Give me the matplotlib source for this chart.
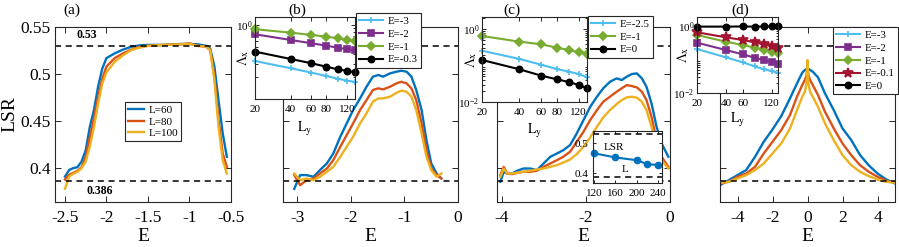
import matplotlib
matplotlib.use('Agg')
import matplotlib.pyplot as plt
from matplotlib.ticker import NullLocator, NullFormatter

plt.rcParams['font.family'] = ['Liberation Serif', 'DejaVu Serif']
plt.rcParams['mathtext.fontset'] = 'stix'
plt.rcParams['axes.unicode_minus'] = False

# ---- main panels: LSR vs E for L=60, 80, 100 ----
Ea = [-2.5, -2.45, -2.4, -2.35, -2.3, -2.25, -2.2, -2.15, -2.1, -2.05, -2.0, -1.9, -1.8,
      -1.7, -1.6, -1.5, -1.3, -1.1, -1.0, -0.9, -0.8, -0.75, -0.7, -0.65, -0.6, -0.55]
a60 = [0.391, 0.398, 0.400, 0.401, 0.407, 0.419, 0.444, 0.462, 0.487, 0.506, 0.517, 0.522, 0.526,
       0.529, 0.5305, 0.531, 0.531, 0.532, 0.532, 0.5316, 0.530, 0.527, 0.508, 0.472, 0.437, 0.412]
a80 = [0.388, 0.393, 0.395, 0.397, 0.401, 0.412, 0.433, 0.453, 0.476, 0.495, 0.508, 0.517, 0.522,
       0.526, 0.529, 0.530, 0.531, 0.5316, 0.5326, 0.530, 0.529, 0.5255, 0.497, 0.451, 0.4156, 0.4014]
a100 = [0.378, 0.391, 0.394, 0.396, 0.400, 0.407, 0.423, 0.444, 0.469, 0.490, 0.502, 0.513, 0.520,
        0.5255, 0.528, 0.530, 0.531, 0.5316, 0.532, 0.530, 0.529, 0.5255, 0.4936, 0.444, 0.4085, 0.3943]

Eb = [-3.06, -2.95, -2.83, -2.7, -2.58, -2.45, -2.33, -2.2, -2.08, -1.96, -1.83, -1.71, -1.59,
      -1.49, -1.4, -1.27, -1.15, -1.06, -0.96, -0.87, -0.78, -0.68, -0.59, -0.5, -0.4, -0.31]
b60 = [0.378, 0.3926, 0.3926, 0.3908, 0.3979, 0.405, 0.4156, 0.4333, 0.4475, 0.4617, 0.4741, 0.4865, 0.4972,
       0.499, 0.4972, 0.5007, 0.5025, 0.5035, 0.5025, 0.4972, 0.483, 0.4617, 0.4298, 0.405, 0.3943, 0.389]
b80 = [0.3926, 0.3819, 0.3872, 0.389, 0.3943, 0.3996, 0.4085, 0.4227, 0.4351, 0.4475, 0.4617, 0.4723, 0.483,
       0.4848, 0.4837, 0.4865, 0.4901, 0.4918, 0.4901, 0.4848, 0.4723, 0.4475, 0.4191, 0.3996, 0.3926, 0.389]
b100 = [0.3943, 0.3872, 0.389, 0.3872, 0.3908, 0.3961, 0.4014, 0.4121, 0.4227, 0.4333, 0.4475, 0.4582, 0.4706,
        0.4741, 0.4741, 0.4759, 0.4801, 0.4823, 0.4812, 0.4759, 0.4617, 0.4369, 0.4121, 0.3979, 0.3908, 0.3943]

Ec = [-4.04, -3.96, -3.88, -3.76, -3.64, -3.49, -3.33, -3.17, -3.01, -2.85, -2.69, -2.54, -2.38, -2.22, -2.06,
      -1.9, -1.74, -1.59, -1.43, -1.27, -1.15, -1.03, -0.91, -0.79, -0.67, -0.56, -0.44, -0.32, -0.2, -0.04]
c60 = [0.3855, 0.3961, 0.3943, 0.3943, 0.3972, 0.3996, 0.3996, 0.3979, 0.405, 0.4121, 0.4156, 0.4191, 0.4245,
       0.4369, 0.4511, 0.4652, 0.4759, 0.4848, 0.4918, 0.4954, 0.4936, 0.4972, 0.500, 0.5007, 0.4954, 0.4865,
       0.4688, 0.444, 0.4262, 0.4121]
c80 = [0.3926, 0.4014, 0.3943, 0.3936, 0.395, 0.3961, 0.3961, 0.3972, 0.4014, 0.405, 0.4085, 0.4121, 0.4174,
       0.428, 0.4387, 0.4511, 0.4617, 0.4706, 0.4759, 0.4812, 0.4848, 0.4883, 0.4872, 0.4858, 0.4812, 0.4723,
       0.4546, 0.4298, 0.4121, 0.4014]
c100 = [0.3908, 0.3996, 0.3943, 0.3943, 0.395, 0.3961, 0.3972, 0.3986, 0.3996, 0.4014, 0.4032, 0.406, 0.4092,
        0.4149, 0.4227, 0.4326, 0.444, 0.4539, 0.4617, 0.4681, 0.4723, 0.4752, 0.4759, 0.4748, 0.4706, 0.4617,
        0.444, 0.4227, 0.4085, 0.3996]

Ed = [-5, -4.5, -4, -3.5, -3, -2.5, -2, -1.5, -1, -0.6, -0.3, -0.15, -0.05, 0,
      0.05, 0.15, 0.3, 0.6, 1, 1.5, 2, 2.5, 3, 3.5, 4, 4.5, 5]
d60 = [0.3819, 0.3872, 0.3926, 0.398, 0.412, 0.428, 0.4411, 0.4553, 0.4741, 0.4901, 0.5014, 0.5043, 0.5053, 0.506,
       0.5053, 0.5043, 0.5025, 0.4965, 0.4794, 0.4617, 0.4422, 0.4298, 0.414, 0.403, 0.3943, 0.3879, 0.3837]
d80 = [0.3837, 0.3855, 0.3908, 0.3943, 0.4014, 0.4156, 0.428, 0.4404, 0.4564, 0.4759, 0.4883, 0.4936, 0.4989, 0.5096,
       0.4989, 0.4936, 0.4883, 0.4777, 0.4599, 0.4422, 0.4262, 0.4138, 0.4032, 0.3961, 0.3908, 0.3865, 0.3844]
d100 = [0.3844, 0.3855, 0.389, 0.3926, 0.3979, 0.405, 0.4156, 0.4262, 0.4422, 0.4617, 0.4759, 0.4812, 0.4901, 0.5149,
        0.4901, 0.4812, 0.4759, 0.4652, 0.4475, 0.4298, 0.4138, 0.4032, 0.3961, 0.3915, 0.3879, 0.3855, 0.3844]

# ---- insets: Lambda_x vs L_y ----
Ly = [20, 40, 60, 80, 100, 120, 140]
b_m3 = [0.326, 0.26, 0.227, 0.205, 0.188, 0.177, 0.17]
b_m2 = [0.748, 0.627, 0.566, 0.525, 0.493, 0.47, 0.455]
b_m1 = [0.875, 0.787, 0.733, 0.695, 0.661, 0.627, 0.602]
b_m03 = [0.436, 0.347, 0.304, 0.273, 0.252, 0.239, 0.23]

c_m25 = [0.254, 0.151, 0.105, 0.080, 0.0676, 0.0585, 0.0475]
c_m1 = [0.643, 0.449, 0.381, 0.307, 0.266, 0.23, 0.203]
c_0 = [0.1415, 0.0787, 0.0526, 0.0419, 0.0353, 0.0292, 0.0237]

d_m3 = [0.206, 0.116, 0.0824, 0.0626, 0.051, 0.0454, 0.0395]
d_m2 = [0.318, 0.192, 0.143, 0.113, 0.0966, 0.0824, 0.072]
d_m1 = [0.539, 0.34, 0.271, 0.225, 0.192, 0.171, 0.153]
d_m01 = [0.649, 0.46, 0.382, 0.326, 0.284, 0.253, 0.225]
d_0 = [0.96, 0.96, 0.97, 0.96, 0.97, 0.97, 0.98]

# LSR vs L inset in (c)
L_sizes = [120, 160, 200, 220, 240]
lsr_L = [0.466, 0.452, 0.443, 0.430, 0.427]

W, H = 899, 247
fig = plt.figure(figsize=(W / 100, H / 100), dpi=100)


def box(x0, y0, x1, y1):
    return [x0 / W, 1 - y1 / H, (x1 - x0) / W, (y1 - y0) / H]


blue, red, yellow = '#0072BD', '#D95319', '#EDB120'
lblue, purple, green, dred = '#4DBEEE', '#7E2F8E', '#77AC30', '#A2142F'
ycol = '#262626'


def style(ax, size, length, pad):
    for s in ax.spines.values():
        s.set_linewidth(0.8)
        s.set_color(ycol)
    ax.tick_params(which='both', direction='in', top=True, right=True, length=length,
                   width=0.7, labelsize=size, pad=pad, color=ycol)


def main_panel(rect, E, curves, xlim, xticks, xlabels, first=False):
    ax = fig.add_axes(box(*rect))
    lines = []
    for y, c in zip(curves, [blue, red, yellow]):
        lines += ax.plot(E, y, color=c, lw=1.7)
    ax.axhline(0.53, color='k', ls=(0, (4, 3)), lw=1.1)
    ax.axhline(0.386, color='k', ls=(0, (4, 3)), lw=1.1)
    ax.set_xlim(*xlim)
    ax.set_ylim(0.364, 0.55)
    ax.set_xticks(xticks)
    ax.set_xticklabels(xlabels)
    ax.set_yticks([0.4, 0.45, 0.5, 0.55])
    style(ax, 12.5, 4, 6)
    ax.tick_params(axis='y', pad=3)
    if first:
        ax.set_yticklabels(['0.4', '0.45', '0.5', '0.55'])
        ax.set_ylabel('LSR', fontsize=14)
        ax.yaxis.set_label_coords(-0.21, 0.5)
    else:
        ax.set_yticklabels([])
    ax.set_xlabel('E', fontsize=14)
    ax.xaxis.set_label_coords(0.5, -0.15)
    return ax, lines


axA, la = main_panel((55, 27, 231, 202), Ea, [a60, a80, a100], (-2.62, -0.5),
                     [-2.5, -2, -1.5, -1, -0.5], ['-2.5', '-2', '-1.5', '-1', '-0.5'], first=True)
axB, _ = main_panel((283, 27, 458, 202), Eb, [b60, b80, b100], (-3.27, 0),
                    [-3, -2, -1, 0], ['-3', '-2', '-1', '0'])
axC, _ = main_panel((497, 27, 670, 202), Ec, [c60, c80, c100], (-4.12, 0),
                    [-4, -2, 0], ['-4', '-2', '0'])
axD, _ = main_panel((720, 27, 895, 202), Ed, [d60, d80, d100], (-5, 5),
                    [-4, -2, 0, 2, 4], ['-4', '-2', '0', '2', '4'])

axA.text(0.12, 0.535, '0.53', fontsize=8.5, fontweight='bold', transform=axA.get_yaxis_transform(),
         va='bottom')
axA.text(0.18, 0.382, '0.386', fontsize=8.5, fontweight='bold', transform=axA.get_yaxis_transform(),
         va='top')
leg = axA.legend(la, ['L=60', 'L=80', 'L=100'], loc='upper left', bbox_to_anchor=(125 / W, 1 - 102 / H),
                 bbox_transform=fig.transFigure, borderaxespad=0, fontsize=8, handlelength=1.4,
                 handletextpad=0.4, labelspacing=0.15, borderpad=0.3, fancybox=False,
                 edgecolor=ycol, framealpha=1)
leg.get_frame().set_linewidth(0.8)


def inset(rect, ylim, yticks, xticks, series, legpos, ylab_x, xlab_y):
    ax = fig.add_axes(box(*rect))
    for vals, c, m, ms, lab in series:
        ax.plot(Ly, vals, color=c, marker=m, ms=ms, mew=1.2, lw=1.5, label=lab, clip_on=False)
    ax.set_xscale('log')
    ax.set_yscale('log')
    ax.set_xlim(20, 140)
    ax.set_ylim(*ylim)
    ax.set_xticks(xticks)
    ax.set_xticklabels([str(t) for t in xticks])
    ax.xaxis.set_minor_locator(NullLocator())
    ax.set_yticks(yticks)
    ax.yaxis.set_minor_formatter(NullFormatter())
    style(ax, 8, 3, 4)
    ax.tick_params(axis='y', which='major', pad=2)
    ax.tick_params(axis='y', which='minor', length=1.8)
    ax.set_ylabel(r'$\Lambda_{\rm x}$', fontsize=10, labelpad=0)
    ax.yaxis.set_label_coords(ylab_x, 0.5)
    ax.set_xlabel(r'$\rm L_y$', fontsize=10)
    ax.xaxis.set_label_coords(0.5, xlab_y)
    lg = ax.legend(loc='upper left', bbox_to_anchor=(legpos[0] / W, 1 - legpos[1] / H),
                   bbox_transform=fig.transFigure, borderaxespad=0, fontsize=7.8, handlelength=2.2,
                   handletextpad=0.4, labelspacing=0.3, borderpad=0.3, fancybox=False,
                   edgecolor=ycol, framealpha=1, numpoints=1)
    lg.get_frame().set_linewidth(0.8)
    return ax


insB = inset((255, 17, 355, 99), (0.1, 1.28), [1], [20, 40, 60, 80, 120],
             [(b_m3, lblue, '+', 5, 'E=-3'), (b_m2, purple, 's', 4, 'E=-2'),
              (b_m1, green, 'D', 4, 'E=-1'), (b_m03, 'k', 'o', 4.5, 'E=-0.3')],
             (356, 13), -0.04, -0.25)
insC = inset((482, 17, 587, 102), (0.01, 2.13), [0.01, 1], [20, 40, 60, 80, 120],
             [(c_m25, lblue, '+', 5, 'E=-2.5'), (c_m1, green, 'D', 4, 'E=-1'),
              (c_0, 'k', 'o', 4.5, 'E=0')],
             (588, 16), -0.03, -0.23)
insD = inset((697, 17, 778, 93), (0.01, 1.86), [0.01, 1], [20, 40, 60, 120],
             [(d_m3, lblue, '+', 5, 'E=-3'), (d_m2, purple, 's', 4, 'E=-2'),
              (d_m1, green, 'D', 4, 'E=-1'), (d_m01, dred, '*', 7, 'E=-0.1'),
              (d_0, 'k', 'o', 4.5, 'E=0')],
             (833, 27), -0.07, -0.24)

# LSR vs L inset inside (c)
axL = fig.add_axes(box(593, 131, 662, 183))
axL.plot(L_sizes, lsr_L, color=blue, marker='o', ms=4.5, lw=1.5, clip_on=False)
axL.axhline(0.53, color='k', ls=(0, (4, 3)), lw=1.1)
axL.axhline(0.386, color='k', ls=(0, (4, 3)), lw=1.1)
axL.set_xlim(118, 248)
axL.set_ylim(0.367, 0.54)
axL.set_xticks([120, 160, 200, 240])
axL.set_yticks([0.4, 0.5])
axL.set_yticklabels(['0.4', '0.5'])
style(axL, 8, 2.5, 3)
axL.tick_params(axis='x', pad=4)
axL.text(0.3, 0.68, 'LSR', fontsize=8, ha='center', va='center', transform=axL.transAxes)
axL.text(0.47, 0.25, 'L', fontsize=8, ha='center', va='center', transform=axL.transAxes)

for lab, x in [('(a)', 72), ('(b)', 297), ('(c)', 512), ('(d)', 740)]:
    fig.text(x / W, 1 - 10 / H, lab, fontsize=11, ha='center', va='center')

fig.savefig('out.png', dpi=100)
